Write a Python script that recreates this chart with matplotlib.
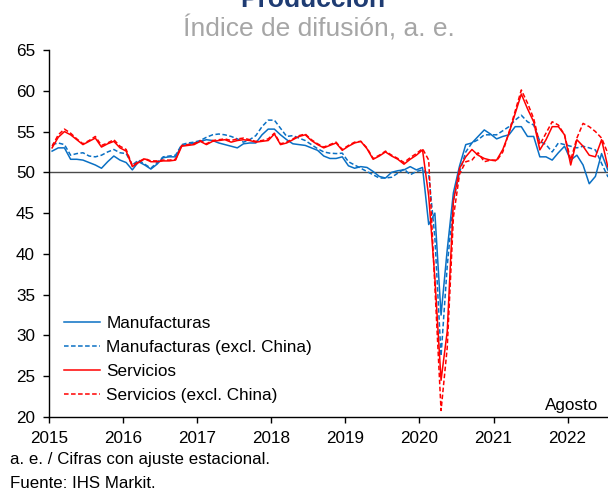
import numpy as np
import matplotlib
matplotlib.use("Agg")
import matplotlib.pyplot as plt

plt.rcParams["font.family"] = ["Liberation Sans", "DejaVu Sans"]

# Monthly diffusion indices, Jan 2015 - Aug 2022
START_YEAR = 2015

manufacturas = [
    52.6, 53.0, 53.0, 51.6, 51.6, 51.5, 51.2, 50.9, 50.5, 51.3, 52.0, 51.5,
    51.2, 50.3, 51.3, 50.9, 50.4, 51.0, 51.8, 51.9, 51.9, 53.3, 53.4, 53.6,
    53.8, 54.0, 53.9, 53.6, 53.4, 53.2, 53.0, 53.5, 53.6, 53.6, 54.6, 55.3,
    55.3, 54.6, 54.0, 53.5, 53.4, 53.3, 53.0, 52.7, 52.0, 51.7, 51.7, 51.9,
    50.8, 50.5, 50.7, 50.6, 50.1, 49.5, 49.3, 50.0, 50.2, 50.3, 50.7, 50.3,
    50.6, 43.6, 45.0, 32.5, 40.5, 47.5, 50.8, 53.4, 53.6, 54.4, 55.2, 54.7,
    54.1, 54.4, 54.6, 55.6, 55.6, 54.4, 54.4, 51.9, 51.9, 51.5, 52.4, 53.2,
    51.5, 52.1, 50.9, 48.6, 49.5, 52.3, 50.3, 49.3,
]
manufacturas_ex_china = [
    53.4, 53.6, 53.4, 52.1, 52.3, 52.4, 52.0, 51.9, 52.1, 52.5, 52.8, 52.4,
    52.3, 50.9, 51.5, 51.0, 50.5, 51.2, 51.9, 52.0, 52.1, 53.4, 53.6, 53.7,
    53.9, 54.3, 54.6, 54.7, 54.6, 54.4, 54.1, 53.7, 54.0, 54.5, 55.6, 56.4,
    56.4, 55.4, 54.4, 54.5, 54.2, 53.9, 53.4, 52.9, 52.5, 52.35, 52.3, 52.35,
    51.3, 50.9, 50.5, 50.1, 49.7, 49.3, 49.3, 49.4, 49.9, 50.4, 49.7, 50.1,
    50.3, 49.8, 42.0, 27.5, 38.5, 46.5, 50.0, 52.5, 53.6, 54.0, 54.6, 54.6,
    54.6, 55.1, 55.6, 56.4, 57.0, 56.2, 55.8, 53.8, 53.4, 52.5, 53.6, 53.4,
    53.2, 53.0, 53.2, 53.0, 52.75, 51.1, 49.5, 49.0,
]
servicios = [
    53.0, 54.3, 55.0, 54.6, 54.0, 53.4, 53.8, 54.2, 53.1, 53.5, 53.8, 53.0,
    52.6, 50.7, 51.2, 51.65, 51.3, 51.3, 51.4, 51.4, 51.5, 53.2, 53.3, 53.4,
    53.8, 53.4, 53.8, 53.9, 54.0, 53.7, 53.9, 54.0, 53.9, 53.7, 53.8, 53.9,
    54.7, 53.4, 53.6, 54.0, 54.4, 54.6, 53.9, 53.4, 53.0, 53.3, 53.6, 52.7,
    53.2, 53.6, 53.8, 52.9, 51.6, 52.0, 52.5, 52.0, 51.6, 51.0, 51.6, 52.1,
    52.75, 47.1, 37.0, 24.5, 30.5, 46.5, 50.5, 51.9, 52.8, 52.1, 51.7, 51.5,
    51.5, 52.8, 54.8, 57.2, 59.6, 57.8, 56.2, 52.75, 54.0, 55.6, 55.6, 54.6,
    50.9, 54.0, 53.2, 52.1, 51.9, 54.0, 50.7, 49.5,
]
servicios_ex_china = [
    53.2, 54.6, 55.3, 54.8, 54.1, 53.5, 53.9, 54.4, 53.3, 53.6, 54.0, 53.2,
    52.8, 50.8, 51.3, 51.7, 51.4, 51.4, 51.5, 51.5, 51.6, 53.3, 53.4, 53.5,
    53.9, 53.5, 53.9, 54.0, 54.1, 53.9, 54.1, 54.2, 54.0, 53.8, 53.9, 54.1,
    54.8, 53.5, 53.7, 54.1, 54.5, 54.7, 54.0, 53.5, 53.1, 53.4, 53.7, 52.8,
    53.3, 53.7, 53.8, 53.0, 51.7, 52.1, 52.6, 52.1, 51.7, 51.2, 51.8, 52.3,
    52.9, 51.5, 36.0, 20.8, 28.5, 44.5, 49.8, 51.3, 51.5, 52.4, 51.3, 51.5,
    51.4, 52.5, 54.9, 57.5, 60.1, 58.5, 56.6, 53.4, 54.8, 56.2, 55.8, 54.6,
    51.5, 54.2, 56.0, 55.6, 55.0, 54.2, 52.35, 51.5,
]

years = list(range(2015, 2023))
yticks = list(range(20, 70, 5))

BLUE = "#0A70C4"
RED = "#FF0000"

x = START_YEAR + (np.arange(len(manufacturas)) + 0.5) / 12

fig = plt.figure(figsize=(6.08, 4.91), dpi=100)
ax = fig.add_axes([49 / 608, 1 - 417 / 491, 1 - 49 / 608, (417 - 50) / 491])

ax.axhline(50, color="#4a4a4a", linewidth=1.0, zorder=1)

ax.plot(x, manufacturas, color=BLUE, linewidth=1.1, label="Manufacturas", zorder=2)
ax.plot(x, manufacturas_ex_china, color=BLUE, linewidth=1.1, linestyle=(0, (3, 1.6)),
        label="Manufacturas (excl. China)", zorder=2)
ax.plot(x, servicios, color=RED, linewidth=1.1, label="Servicios", zorder=3)
ax.plot(x, servicios_ex_china, color=RED, linewidth=1.1, linestyle=(0, (3, 1.6)),
        label="Servicios (excl. China)", zorder=3)

ax.set_xlim(2015, 2022.545)
ax.set_ylim(20, 65)
ax.set_xticks(years)
ax.set_xticklabels([str(y) for y in years])
ax.set_yticks(yticks)

for side in ("top", "right"):
    ax.spines[side].set_visible(False)
for side in ("left", "bottom"):
    ax.spines[side].set_color("black")
    ax.spines[side].set_linewidth(1.0)
ax.tick_params(axis="both", direction="out", length=4, width=1.0, labelsize=12.3,
               colors="black", pad=6)

leg = ax.legend(loc="lower left", bbox_to_anchor=(0.0, -0.005), frameon=False,
                fontsize=12.3, handlelength=2.1, handletextpad=0.35,
                labelspacing=0.54, borderaxespad=0.5)

ax.text(0.982, 0.012, "Agosto", transform=ax.transAxes, ha="right", va="bottom",
        fontsize=12.3)

fig.text(0.515, 1 - 7 / 491, "Producción", ha="center", va="baseline",
         fontsize=19, fontweight="bold", color="#1F3C73")
fig.text(0.525, 1 - 37 / 491, "Índice de difusión, a. e.", ha="center",
         va="baseline", fontsize=19, color="#A6A6A6")

fig.text(10 / 608, 1 - 464 / 491, "a. e. / Cifras con ajuste estacional.",
         ha="left", va="baseline", fontsize=12.2)
fig.text(10 / 608, 1 - 488 / 491, "Fuente: IHS Markit.", ha="left",
         va="baseline", fontsize=12.2)

fig.savefig("out.png", dpi=100)
